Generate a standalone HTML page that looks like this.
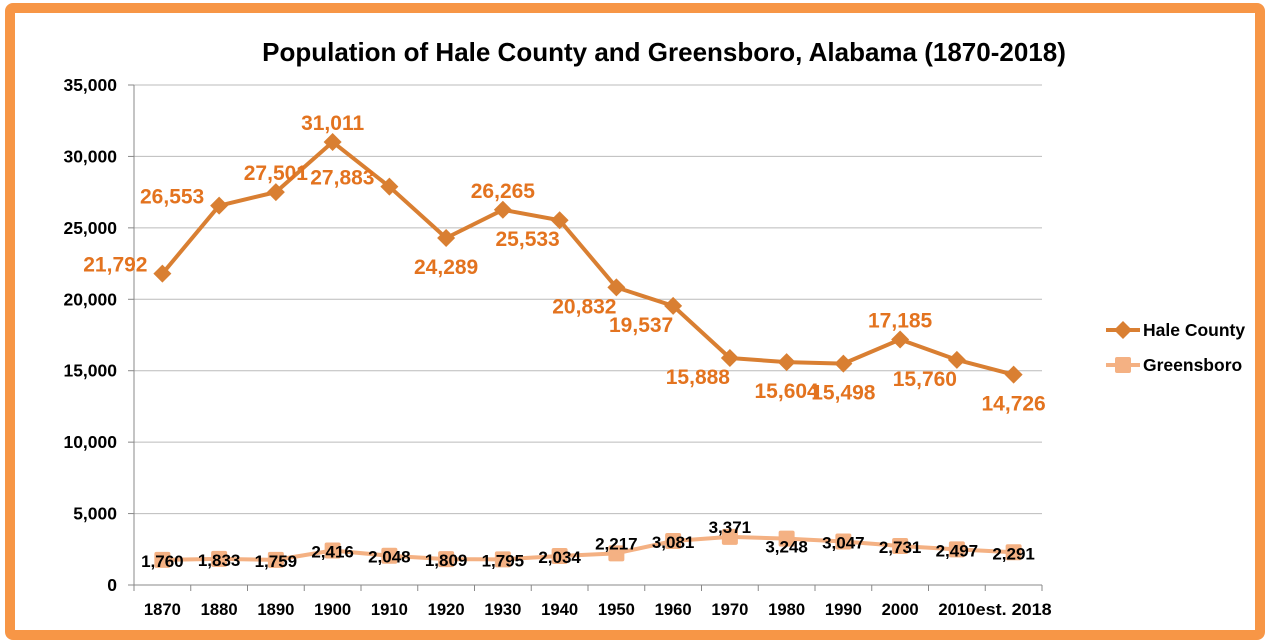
<!DOCTYPE html>
<html><head><meta charset="utf-8"><style>
body{margin:0;width:1269px;height:643px;background:#fff;overflow:hidden;font-family:"Liberation Sans",sans-serif}
#frame{position:absolute;left:5px;top:3px;width:1240px;height:617px;border:10px solid #F79646;border-radius:8px;background:#fff}
svg{position:absolute;left:0;top:0}
text{font-family:"Liberation Sans",sans-serif;font-weight:bold}
</style></head><body>
<div id="frame"></div>
<svg id="chart" width="1269" height="643"></svg>
<script>
const categories=["1870","1880","1890","1900","1910","1920","1930","1940","1950","1960","1970","1980","1990","2000","2010","est. 2018"];
const haleValues=[21792,26553,27501,31011,27883,24289,26265,25533,20832,19537,15888,15604,15498,17185,15760,14726];
const greensboroValues=[1760,1833,1759,2416,2048,1809,1795,2034,2217,3081,3371,3248,3047,2731,2497,2291];
const yTicks=[0,5000,10000,15000,20000,25000,30000,35000];
const halePlacement=["left","left","above","above","left","below","above","belowleft","belowleft","belowleft","belowleft","below","below","above","belowleft","below"];
const grePlacement=["c","c","c","c","c","c","c","c","a","c","a","b","c","c","c","c"];

const NS="http://www.w3.org/2000/svg";
const svg=document.getElementById('chart');
const L=134,R=1042,T=85,B=585,yMax=35000;
const bw=(R-L)/categories.length;
const xs=i=>L+bw*(i+0.5);
const ys=v=>B-(v/yMax)*(B-T);
function mk(tag,attrs,parent){const e=document.createElementNS(NS,tag);for(const k in attrs)e.setAttribute(k,attrs[k]);(parent||svg).appendChild(e);return e;}
const fmt=v=>v.toLocaleString('en-US');

let t=mk('text',{x:664,y:61,'text-anchor':'middle','font-size':26,fill:'#000'});
t.textContent="Population of Hale County and Greensboro, Alabama (1870-2018)";



yTicks.forEach(v=>{
  const y=ys(v);
  const g=mk('line',{x1:L,x2:R,y1:y,y2:y,stroke:v===0?'#888':'#bbb','stroke-width':1});
  
  
  mk('line',{x1:L-6,x2:L,y1:y,y2:y,stroke:'#888'});
  const lb=mk('text',{x:117,y:y+6,'text-anchor':'end','font-size':17.5,fill:'#000'});
  lb.textContent=fmt(v);
  
  
});
const ax=mk('line',{x1:L,x2:L,y1:T,y2:B,stroke:'#888'});


categories.forEach((c,i)=>{
  const x=L+bw*i;
  mk('line',{x1:x,x2:x,y1:B,y2:B+6,stroke:'#888'});
  const lb=mk('text',{x:xs(i),y:615,'text-anchor':'middle','font-size':16.5,fill:'#000',textLength:c.length>4?76:37,lengthAdjust:'spacingAndGlyphs'});
  lb.textContent=c;
  
  
});
mk('line',{x1:R,x2:R,y1:B,y2:B+6,stroke:'#888'});

function series(vals,color,marker,name){
  const p=mk('polyline',{points:vals.map((v,i)=>xs(i)+','+ys(v)).join(' '),fill:'none',stroke:color,'stroke-width':4,'stroke-linejoin':'round'});
  
  
  vals.forEach((v,i)=>{
    const x=xs(i),y=ys(v);let m;
    if(marker==='d')m=mk('polygon',{points:`${x},${y-9} ${x+9},${y} ${x},${y+9} ${x-9},${y}`,fill:color});
    else m=mk('rect',{x:x-8,y:y-8,width:16,height:16,rx:2,fill:color});
    
    
  });
}
series(greensboroValues,'#F4B183','s','greensboro');
series(haleValues,'#D97F32','d','hale-county');

const hOff={left:[-47,-2],above:[0,-12],below:[0,36],belowleft:[-32,26]};
haleValues.forEach((v,i)=>{
  const o=hOff[halePlacement[i]];
  const lb=mk('text',{x:xs(i)+o[0],y:ys(v)+o[1],'text-anchor':'middle','font-size':21,fill:'#E3731F'});
  lb.textContent=fmt(v);
  
  
});
const gOff={c:[0,7],a:[0,-4],b:[0,14]};
greensboroValues.forEach((v,i)=>{
  const o=gOff[grePlacement[i]];
  const lb=mk('text',{x:xs(i)+o[0],y:ys(v)+o[1],'text-anchor':'middle','font-size':17,fill:'#000'});
  lb.textContent=fmt(v);
  
  
});

[['Hale County','#D97F32','d',330],['Greensboro','#F4B183','s',365]].forEach(([n,c,m,y])=>{
  const g=mk('g',{});
  
  
  mk('line',{x1:1106,x2:1140,y1:y,y2:y,stroke:c,'stroke-width':4},g);
  if(m==='d')mk('polygon',{points:`1123,${y-9} 1132,${y} 1123,${y+9} 1114,${y}`,fill:c},g);
  else mk('rect',{x:1115,y:y-8,width:16,height:16,rx:2,fill:c},g);
  const tx=mk('text',{x:1143,y:y+6,'font-size':17.5,fill:'#000'},g);
  tx.textContent=n;
});
</script>
</body></html>
